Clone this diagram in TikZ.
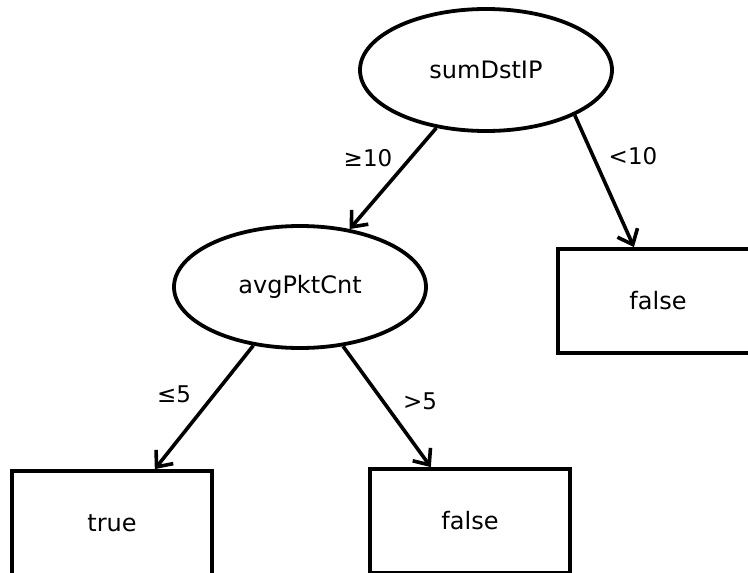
\documentclass[tikz,border=0pt]{standalone}
\usepackage{fontspec}
\setmainfont{DejaVu Sans}
\usetikzlibrary{shapes.geometric,arrows.meta}

\begin{document}
\begin{tikzpicture}[x=1pt,y=-1pt,
  every node/.style={font=\fontsize{24}{28}\selectfont},
  test/.style={draw,ellipse,line width=3.8pt,minimum width=252pt,minimum height=122pt,inner sep=0pt},
  leaf/.style={draw,rectangle,line width=3.8pt,minimum width=200pt,minimum height=104pt,inner sep=0pt},
  edge/.style={draw,line width=3.6pt,-{Straight Barb[length=13pt,width=22pt]}},
  lbl/.style={font=\fontsize{23}{27}\selectfont}]
  \useasboundingbox (0,0) rectangle (748,573);
  \clip (0,0) rectangle (748,573);

  % decision nodes
  \node[test] (root) at (486,70) {sumDstIP};
  \node[test] (avg) at (300,287) {avgPktCnt};

  % leaves
  \node[leaf] (f1) at (658,301) {false};
  \node[leaf] (t1) at (112,523) {true};
  \node[leaf] (f2) at (470,521) {false};

  % branches
  \draw[edge] (root) -- (avg);
  \draw[edge] (root.-27) -- (f1);
  \draw[edge] (avg) -- (t1);
  \draw[edge] (avg) -- (f2);

  % branch conditions
  \node[lbl] (l1) at (368,158) {≥10};
  \node[lbl] (l2) at (633,156) {<10};
  \node[lbl] (l3) at (174,394) {≤5};
  \node[lbl] (l4) at (420,401) {>5};
\end{tikzpicture}
\end{document}
